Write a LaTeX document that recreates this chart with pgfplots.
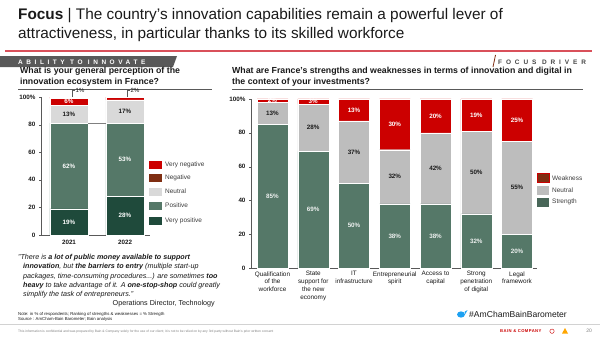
\documentclass[border=0pt]{standalone}
\usepackage{pgfplots}
\pgfplotsset{compat=1.18}
\usepackage{pgfplotstable}
\usepackage{fontspec}
\setmainfont{Liberation Sans}
\definecolor{cvpos}{HTML}{1F4A3B}
\definecolor{cpos}{HTML}{557868}
\definecolor{neuL}{HTML}{D9D9D9}
\definecolor{neuR}{HTML}{BDBDBD}
\definecolor{bred}{HTML}{CC0000}
\definecolor{brn}{HTML}{7F2E12}
\definecolor{txt}{HTML}{1A1A1A}
\definecolor{banner}{HTML}{595959}
\definecolor{redline}{HTML}{D9505A}
\definecolor{twblue}{HTML}{1DA1F2}
\newcommand{\fs}[2]{\fontsize{#1pt}{#2pt}\selectfont}

\pgfplotstableread{
x vpos pos neu neg vneg
0 19 62 13 5 1
1 28 53 17 0 2
}\leftdata

\pgfplotstableread{
x str neu weak
0 85 13 2
1 69 28 3
2 50 37 13
3 38 32 30
4 38 42 20
5 32 49 19
6 20 55 25
}\rightdata

\begin{document}
\begin{tikzpicture}[x=1bp,y=1bp]
\path[use as bounding box, fill=white] (0,0) rectangle (600,337);

% ---------- header
\node[anchor=base west, inner sep=0, text=txt, font=\fs{15.4}{17}] at (18,318) {\textbf{Focus} | The country’s innovation capabilities remain a powerful lever of};
\node[anchor=base west, inner sep=0, text=txt, font=\fs{15.4}{17}] at (18,299) {attractiveness, in particular thanks to its skilled workforce};
\draw[redline, line width=1.2] (5,286) -- (592,286);
\fill[banner] (0,270) -- (0,281) -- (177,281) -- (173,270) -- cycle;
\node[anchor=base west, inner sep=0, text=white, font=\fs{6.5}{8}\bfseries\addfontfeatures{LetterSpace=55}] at (18,272.6) {ABILITY TO INNOVATE};
\draw[brn, line width=0.8] (493,270) -- (495.5,282);
\node[anchor=base west, inner sep=0, text=banner!80!black, font=\fs{6.5}{8}\bfseries\addfontfeatures{LetterSpace=60}] at (498,272.6) {FOCUS DRIVER};

% ---------- subtitles
\node[anchor=base west, inner sep=0, text=txt, font=\fs{8.8}{9}\bfseries] at (20,264) {What is your general perception of the};
\node[anchor=base west, inner sep=0, text=txt, font=\fs{8.8}{9}\bfseries] at (20,253) {innovation ecosystem in France?};
\draw[banner, line width=0.6] (18,248) -- (212,248);
\node[anchor=base west, inner sep=0, text=txt, font=\fs{8.8}{9}\bfseries] at (232,264) {What are France's strengths and weaknesses in terms of innovation and digital in};
\node[anchor=base west, inner sep=0, text=txt, font=\fs{8.8}{9}\bfseries] at (232,253) {the context of your investments?};
\draw[banner, line width=0.6] (232,248) -- (583,248);

% ---------- left chart
\begin{axis}[at={(41bp,102bp)}, anchor=south west, scale only axis, width=109bp, height=138bp,
  ybar stacked, bar width=0.68, xmin=-0.5, xmax=1.446, ymin=0, ymax=100,
  axis x line*=bottom, axis y line*=left,
  xtick={0,1}, xticklabels={2021,2022},
  ytick={0,20,40,60,80,100}, yticklabels={0,20,40,60,80,100\%},
  tick label style={font=\fs{6.3}{7}\bfseries, text=txt},
  xtick style={draw=none}, ytick style={draw=banner}, tick align=outside, major tick length=2bp,
  axis line style={banner, line width=0.6}, clip=false]
\addplot[fill=cvpos, draw=white, line width=0.4] table[x=x,y=vpos]{\leftdata};
\addplot[fill=cpos, draw=white, line width=0.4] table[x=x,y=pos]{\leftdata};
\addplot[fill=neuL, draw=white, line width=0.4] table[x=x,y=neu]{\leftdata};
\addplot[fill=bred, draw=white, line width=0.4] table[x=x,y=neg]{\leftdata};
\addplot[fill=bred, draw=white, line width=0.4] table[x=x,y=vneg]{\leftdata};
\end{axis}
\begin{axis}[at={(41bp,102bp)}, anchor=south west, scale only axis, width=109bp, height=138bp,
  xmin=-0.5, xmax=1.446, ymin=0, ymax=100, hide axis, clip=false]
\addplot[draw=gray, line width=0.4, mark=none] coordinates {(0.34,81) (0.66,81)};
\addplot[draw=banner, line width=0.4, mark=none] coordinates {(0.054,100) (0.054,105) (0.107,105)};
\addplot[draw=banner, line width=0.4, mark=none] coordinates {(1.036,100) (1.036,105) (1.089,105)};
\addplot[draw=none, mark=none, nodes near coords={\pgfplotspointmeta\%}, point meta=explicit symbolic,
  nodes near coords align=center, every node near coord/.append style={font=\fs{6}{7}, text=txt, anchor=west, inner sep=0.5pt}]
  table[x=x,y=y,meta=m]{
x y m
0.107 105 1
1.089 105 2
};
\addplot[draw=none, mark=none, nodes near coords={\pgfplotspointmeta\%}, point meta=explicit symbolic,
  nodes near coords align=center, every node near coord/.append style={font=\fs{6.3}{7}\bfseries, text=white}]
  table[x=x,y=y,meta=m]{
x y m
0 9.5 19
0 50 62
0 96.5 6
1 14 28
1 54.5 53
};
\addplot[draw=none, mark=none, nodes near coords={\pgfplotspointmeta\%}, point meta=explicit symbolic,
  nodes near coords align=center, every node near coord/.append style={font=\fs{6.3}{7}\bfseries, text=txt}]
  table[x=x,y=y,meta=m]{
x y m
0 87.5 13
1 89.5 17
};
\end{axis}

% left legend
\fill[bred] (149,168.5) rectangle (162,176.5);
\fill[brn] (149,155.5) rectangle (162,163.5);
\fill[neuL] (149,141.5) rectangle (162,149.5);
\fill[cpos] (149,127.5) rectangle (162,135.5);
\fill[cvpos] (149,112.5) rectangle (162,120.5);
\foreach \yy/\tt in {172.5/Very negative, 159.5/Negative, 145.5/Neutral, 131.5/Positive, 116.5/Very positive}
  \node[anchor=west, inner sep=0, text=banner!70!black, font=\fs{6.5}{7}] at (165,\yy) {\tt};

% ---------- right chart
\begin{axis}[at={(251bp,69bp)}, anchor=south west, scale only axis, width=286bp, height=169bp,
  ybar stacked, bar width=0.76, xmin=-0.528, xmax=6.49, ymin=0, ymax=100,
  axis x line*=bottom, axis y line*=left,
  xtick={0,...,6},
  xticklabels={{Qualification\\of the\\workforce},{State\\support for\\the new\\economy},{IT\\infrastructure},{Entrepreneurial\\spirit},{Access to\\capital},{Strong\\penetration\\of digital},{Legal\\framework}},
  xticklabel style={align=center, font=\fs{6.4}{8}, text=txt, anchor=north, inner sep=1.2pt},
  ytick={0,20,40,60,80,100}, yticklabels={0,20,40,60,80,100\%},
  yticklabel style={font=\fs{6.3}{7}\bfseries, text=txt},
  xtick style={draw=none}, ytick style={draw=banner}, tick align=outside, major tick length=2bp,
  axis line style={banner, line width=0.6}, clip=false]
\addplot[fill=cpos, draw=white, line width=0.4] table[x=x,y=str]{\rightdata};
\addplot[fill=neuR, draw=white, line width=0.4] table[x=x,y=neu]{\rightdata};
\addplot[fill=bred, draw=white, line width=0.4] table[x=x,y=weak]{\rightdata};
\end{axis}
\begin{axis}[at={(251bp,69bp)}, anchor=south west, scale only axis, width=286bp, height=169bp,
  xmin=-0.528, xmax=6.49, ymin=0, ymax=100, hide axis, clip=false]
\addplot[draw=none, mark=none, nodes near coords={\pgfplotspointmeta\%}, point meta=explicit symbolic,
  nodes near coords align=center, every node near coord/.append style={font=\fs{6.3}{7}\bfseries, text=white!90!cpos}]
  table[x=x,y=y,meta=m]{
x y m
0 42.5 85
1 34.5 69
2 25 50
3 19 38
4 19 38
5 16 32
6 10 20
};
\addplot[draw=none, mark=none, nodes near coords={\pgfplotspointmeta\%}, point meta=explicit symbolic,
  nodes near coords align=center, every node near coord/.append style={font=\fs{6.3}{7}\bfseries, text=txt}]
  table[x=x,y=y,meta=m]{
x y m
0 91.5 13
1 83 28
2 68.5 37
3 54 32
4 59 42
5 56.5 50
6 47.5 55
};
\addplot[draw=none, mark=none, nodes near coords={\pgfplotspointmeta\%}, point meta=explicit symbolic,
  nodes near coords align=center, every node near coord/.append style={font=\fs{6.3}{7}\bfseries, text=white}]
  table[x=x,y=y,meta=m]{
x y m
0 99 2
1 98.5 3
2 93.5 13
3 85 30
4 90 20
5 90.5 19
6 87.5 25
};
\end{axis}

% right legend
\fill[brn] (537,154.5) rectangle (549,163.5);
\draw[bred, line width=0.5] (537,154.5) rectangle (549,163.5);
\fill[neuR] (537,142.5) rectangle (549,151.5);
\fill[cpos!85!black] (537,130.5) rectangle (549,139.5);
\foreach \yy/\tt in {159/Weakness, 147/Neutral, 135/Strength}
  \node[anchor=west, inner sep=0, text=banner!70!black, font=\fs{6.5}{7}] at (552,\yy) {\tt};

% ---------- quote
\begin{scope}[every node/.style={anchor=base west, inner sep=0, text=txt, font=\fs{7.2}{9}\itshape}]
\node at (18,77.3) {"There is \textbf{a lot of public money available to support}};
\node at (23,68.1) {\textbf{innovation}, but \textbf{the barriers to entry} (multiple start-up};
\node at (23,58.9) {packages, time-consuming procedures...) are sometimes \textbf{too}};
\node at (23,49.7) {\textbf{heavy} to take advantage of it. A \textbf{one-stop-shop} could greatly};
\node at (23,40.5) {simplify the task of entrepreneurs."};
\end{scope}
\node[anchor=base east, inner sep=0, text=txt, font=\fs{7.2}{9}] at (215,31.3) {Operations Director, Technology};

% ---------- notes & footer
\node[anchor=base west, inner sep=0, text=txt, font=\fs{4.3}{5}] at (18,22) {Note: in \% of respondents; Ranking of strengths \& weaknesses = \% Strength};
\node[anchor=base west, inner sep=0, text=txt, font=\fs{4.3}{5}] at (18,16.5) {Source : AmCham-Bain Barometer; Bain analysis};
\draw[gray!35, line width=0.6] (0,12.5) -- (600,12.5);
\node[anchor=base west, inner sep=0, text=gray, font=\fs{3.3}{4}] at (18,4.5) {This information is confidential and was prepared by Bain \& Company solely for the use of our client; it is not to be relied on by any 3rd party without Bain's prior written consent};
\fill[twblue] (461,22.5) ellipse (4 and 3.1);
\fill[twblue] (464.5,25.2) -- (467.5,27) -- (465.2,22.8) -- cycle;
\node[anchor=base west, inner sep=0, text=txt, font=\fs{8.6}{10}] at (469,19.3) {\#AmChamBainBarometer};
\node[anchor=base west, inner sep=0, text=bred, font=\fs{4.2}{5}\bfseries\addfontfeatures{LetterSpace=10}] at (500,4.3) {BAIN \& COMPANY};
\draw[bred, line width=0.4] (552,5.8) circle (2.2);
\fill[orange!70!yellow] (562,3.5) -- (565,9) -- (568,3.5) -- cycle;
\node[anchor=base east, inner sep=0, text=gray, font=\fs{5}{6}] at (592,4.3) {20};
\end{tikzpicture}
\end{document}
